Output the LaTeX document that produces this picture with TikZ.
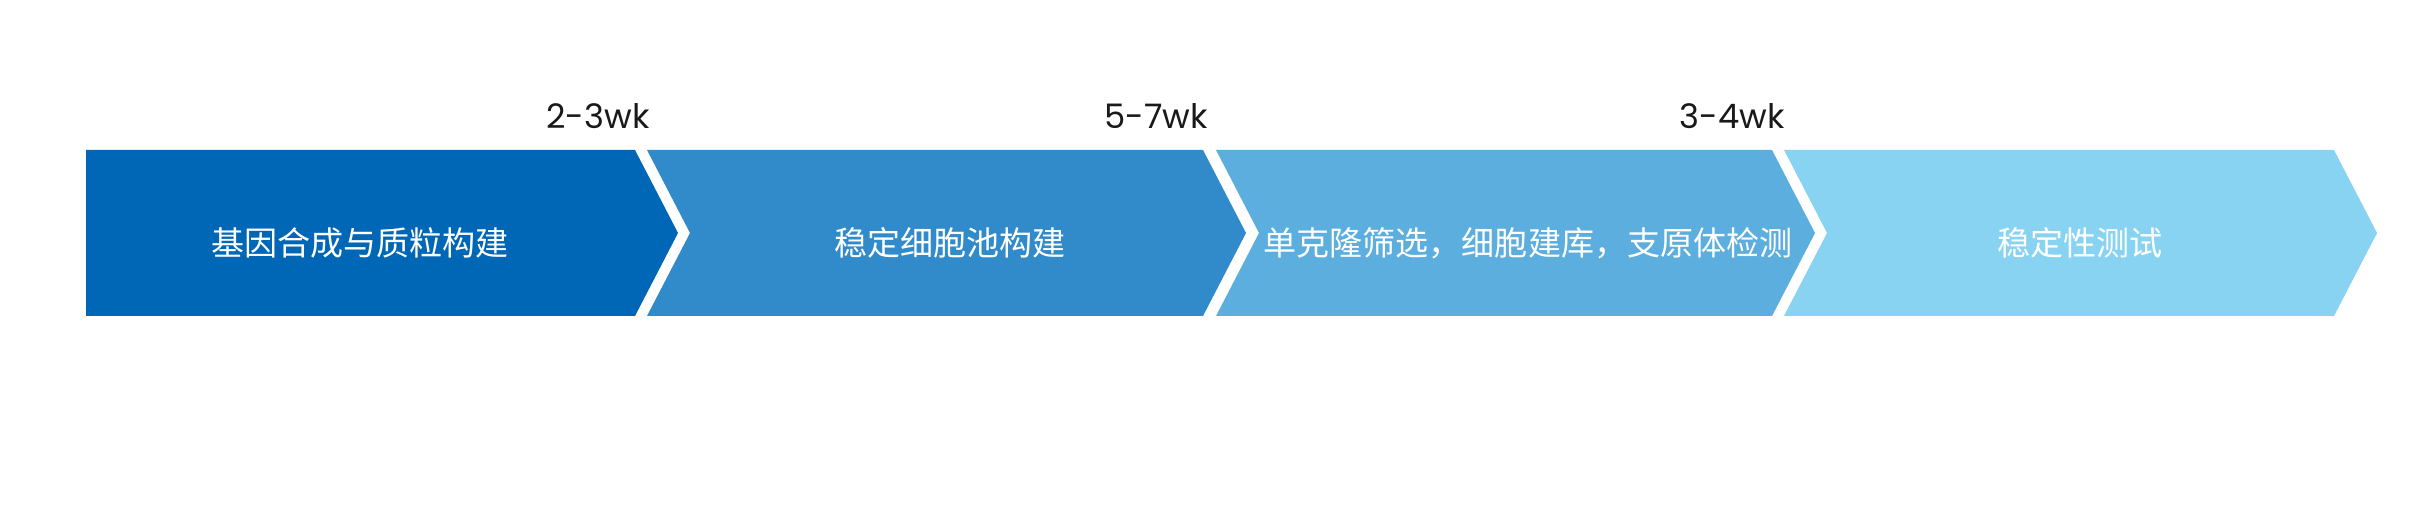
\documentclass[tikz,border=0pt]{standalone}
\usepackage{fontspec}
\setmainfont{Poppins}
\newfontfamily\cjk{Noto Sans CJK SC}
\usetikzlibrary{positioning}
\definecolor{stageA}{HTML}{0066B6}
\definecolor{stageB}{HTML}{318BCA}
\definecolor{stageC}{HTML}{5BAEDD}
\definecolor{stageD}{HTML}{88D3F1}

\begin{document}
\begin{tikzpicture}[x=0.01cm, y=0.01cm,
    lab/.style={font=\cjk\fontsize{9.4}{11}\selectfont, text=white, inner sep=0pt},
    wk/.style={font=\fontsize{9.6}{11}\selectfont, text=black!90, inner sep=0pt, anchor=base}]
\useasboundingbox (0,0) rectangle (2421,506);
% chevrons
\fill[stageA] (86,190) -- (86,356) -- (635,356) -- ++(43,-83) -- (635,190) -- cycle;
\foreach \l/\r/\c in {647/1203/stageB, 1216/1772/stageC, 1784/2334/stageD} {
    \fill[\c] (\l,190) -- ++(43,83) -- (\l,356) -- (\r,356) -- ++(43,-83) -- (\r,190) -- cycle;
}
% stage texts
\node[lab] (s1) at (360,263) {基因合成与质粒构建};
\node[lab] (s2) at (950,263) {稳定细胞池构建};
\node[lab] (s3) at (1528,263) {单克隆筛选，细胞建库，支原体检测};
\node[lab] (s4) at (2080,263) {稳定性测试};
% durations
\node[wk] (t1) at (598,377) {2-3wk};
\node[wk] (t2) at (1156,377) {5-7wk};
\node[wk] (t3) at (1732,377) {3-4wk};
\end{tikzpicture}
\end{document}
